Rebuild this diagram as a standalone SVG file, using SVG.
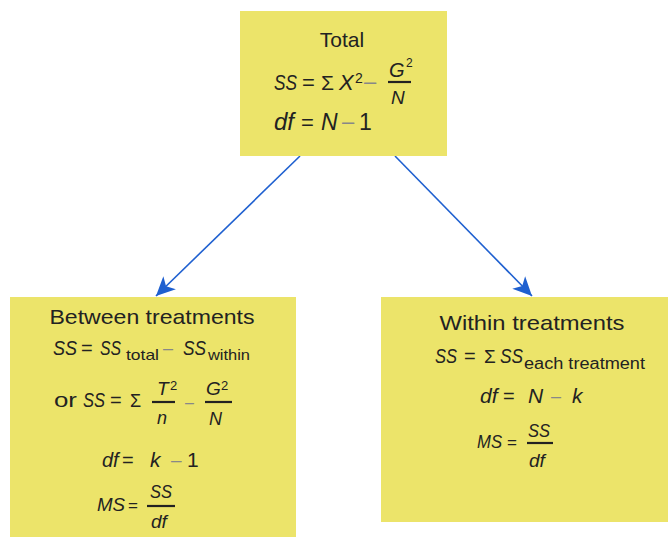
<svg xmlns="http://www.w3.org/2000/svg" width="670" height="537" viewBox="0 0 670 537">
<style>
.box{fill:#ece46a}
text{font-family:"Liberation Sans",Arial,sans-serif;fill:#222}
.t{font-size:21px}
.i{font-style:italic}
.m{fill:#888}
.bar{stroke:#222;stroke-width:2.2}
.conn{stroke:#1f60d0;stroke-width:1.6;fill:none}
</style>
<defs>
<marker id="ah" markerUnits="userSpaceOnUse" markerWidth="20" markerHeight="20" viewBox="0 0 20 20" refX="19" refY="10" orient="auto">
<path d="M0,1 L19,10 L0,19 L5,10 z" fill="#1f60d0"/>
</marker>
</defs>
<rect width="670" height="537" fill="#fff"/>
<g id="connectors">
<line class="conn" x1="300" y1="156" x2="156" y2="296" marker-end="url(#ah)"/>
<line class="conn" x1="395" y1="156" x2="532" y2="296" marker-end="url(#ah)"/>
</g>
<g id="total">
<rect class="box" x="240" y="11" width="207" height="145"/>
<text class="t" x="342" y="47" text-anchor="middle">Total</text>
<text class="i" x="274" y="90" font-size="22" textLength="23" lengthAdjust="spacingAndGlyphs">SS</text>
<text x="302" y="90" font-size="22">=</text>
<text x="321" y="90" font-size="21">Σ</text>
<text class="i" x="339" y="90" font-size="22">X</text>
<text x="355" y="83" font-size="14">2</text>
<text class="m" x="364" y="89" font-size="22">–</text>
<text class="i" x="389" y="77" font-size="20">G</text>
<text x="406" y="67" font-size="12">2</text>
<line class="bar" x1="388" y1="82" x2="411" y2="82"/>
<text class="i" x="391" y="104" font-size="19">N</text>
<text class="i" x="274" y="130" font-size="24">df</text>
<text x="301" y="130" font-size="22">=</text>
<text class="i" x="321" y="130" font-size="23">N</text>
<text class="m" x="342" y="129" font-size="22">–</text>
<text x="359" y="130" font-size="23">1</text>
</g>
<g id="between">
<rect class="box" x="10" y="297" width="286" height="240"/>
<text class="t" x="152" y="324" text-anchor="middle" textLength="205" lengthAdjust="spacingAndGlyphs">Between treatments</text>
<text class="i" x="53" y="355" font-size="21" textLength="24" lengthAdjust="spacingAndGlyphs">SS</text>
<text x="81" y="355" font-size="20">=</text>
<text class="i" x="100" y="355" font-size="21" textLength="21" lengthAdjust="spacingAndGlyphs">SS</text>
<text x="126" y="360" font-size="15" textLength="33" lengthAdjust="spacingAndGlyphs">total</text>
<text class="m" x="163" y="354" font-size="18">–</text>
<text class="i" x="183" y="355" font-size="21" textLength="23" lengthAdjust="spacingAndGlyphs">SS</text>
<text x="208" y="360" font-size="15" textLength="42" lengthAdjust="spacingAndGlyphs">within</text>
<text x="54" y="407" font-size="21" textLength="23" lengthAdjust="spacingAndGlyphs">or</text>
<text class="i" x="83" y="407" font-size="21" textLength="22" lengthAdjust="spacingAndGlyphs">SS</text>
<text x="110" y="407" font-size="20">=</text>
<text x="130" y="407" font-size="18">Σ</text>
<text class="i" x="157" y="395" font-size="19">T</text>
<text x="170" y="390" font-size="13">2</text>
<line class="bar" x1="152" y1="402" x2="175" y2="402"/>
<text class="i" x="157" y="424" font-size="18">n</text>
<text class="m" x="185" y="408" font-size="16">–</text>
<text class="i" x="206" y="395" font-size="19">G</text>
<text x="221" y="390" font-size="13">2</text>
<line class="bar" x1="205" y1="402" x2="232" y2="402"/>
<text class="i" x="209" y="425" font-size="18">N</text>
<text class="i" x="102" y="467" font-size="20">df</text>
<text x="122" y="467" font-size="20">=</text>
<text class="i" x="150" y="467" font-size="21">k</text>
<text class="m" x="171" y="466" font-size="19">–</text>
<text x="187" y="467" font-size="21">1</text>
<text class="i" x="97" y="511" font-size="18" textLength="28" lengthAdjust="spacingAndGlyphs">MS</text>
<text x="128" y="511" font-size="17">=</text>
<text class="i" x="150" y="498" font-size="19" textLength="22" lengthAdjust="spacingAndGlyphs">SS</text>
<line class="bar" x1="147" y1="506" x2="175" y2="506"/>
<text class="i" x="151" y="528" font-size="19">df</text>
</g>
<g id="within">
<rect class="box" x="381" y="297" width="287" height="225"/>
<text class="t" x="532" y="330" text-anchor="middle" textLength="185" lengthAdjust="spacingAndGlyphs">Within treatments</text>
<text class="i" x="435" y="363" font-size="21" textLength="22" lengthAdjust="spacingAndGlyphs">SS</text>
<text x="464" y="363" font-size="20">=</text>
<text x="484" y="363" font-size="19">Σ</text>
<text class="i" x="500" y="363" font-size="21" textLength="23" lengthAdjust="spacingAndGlyphs">SS</text>
<text x="524" y="369" font-size="16" textLength="121" lengthAdjust="spacingAndGlyphs">each treatment</text>
<text class="i" x="480" y="403" font-size="21">df</text>
<text x="503" y="403" font-size="20">=</text>
<text class="i" x="528" y="403" font-size="21">N</text>
<text class="m" x="551" y="402" font-size="18">–</text>
<text class="i" x="572" y="403" font-size="21">k</text>
<text class="i" x="477" y="448" font-size="18" textLength="25" lengthAdjust="spacingAndGlyphs">MS</text>
<text x="507" y="448" font-size="17">=</text>
<text class="i" x="528" y="437" font-size="19" textLength="22" lengthAdjust="spacingAndGlyphs">SS</text>
<line class="bar" x1="527" y1="443" x2="553" y2="443"/>
<text class="i" x="529" y="467" font-size="19">df</text>
</g>
</svg>
